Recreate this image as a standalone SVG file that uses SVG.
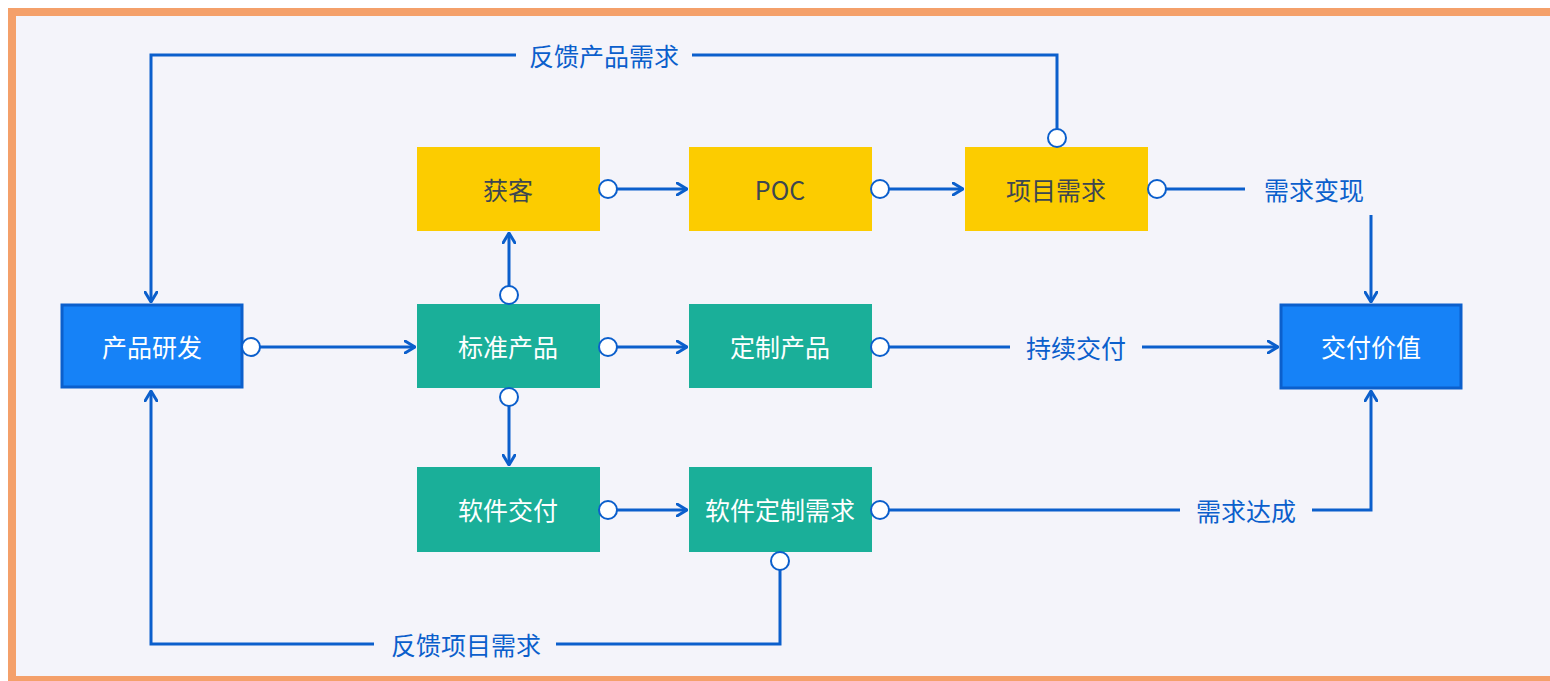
<svg xmlns="http://www.w3.org/2000/svg" width="1550" height="681" viewBox="0 0 1550 681">
<defs>
<marker id="arr" viewBox="0 0 12 14" refX="11" refY="7" markerWidth="12" markerHeight="14" markerUnits="userSpaceOnUse" orient="auto">
<path d="M1,1 L11,7 L1,13" fill="none" stroke="#0b5fcc" stroke-width="3" stroke-linecap="round" stroke-linejoin="round"/>
</marker>
<style>
.ln{fill:none;stroke:#0b5fcc;stroke-width:3}
.dot{fill:#ffffff;stroke:#0b5fcc;stroke-width:2}
.blue{fill:#1682f7;stroke:#0b5fcc;stroke-width:3}
.teal{fill:#1aaf99}
.yel{fill:#fccc00}
.t{font-family:"Noto Sans CJK SC","Noto Sans",sans-serif;font-size:25px;text-anchor:middle;dominant-baseline:central}
.w{fill:#ffffff}
.d{fill:#3d4650}
.lbl{fill:#0b5fcc}
</style>
</defs>
<rect x="0" y="0" width="1550" height="681" fill="#ffffff"/>
<rect x="12" y="12" width="1545" height="668" fill="#f4f4fa" stroke="#f4a06a" stroke-width="8"/>

<g id="connectors">
<path class="ln" d="M1057,138 V55 H692 M516,55 H151 V302" marker-end="url(#arr)"/>
<path class="ln" d="M251,347 H415" marker-end="url(#arr)"/>
<path class="ln" d="M608,189 H687" marker-end="url(#arr)"/>
<path class="ln" d="M880,189 H963" marker-end="url(#arr)"/>
<path class="ln" d="M1157,189 H1245"/>
<path class="ln" d="M1371,215 V302" marker-end="url(#arr)"/>
<path class="ln" d="M509,295 V233" marker-end="url(#arr)"/>
<path class="ln" d="M608,347 H687" marker-end="url(#arr)"/>
<path class="ln" d="M880,347 H1010"/>
<path class="ln" d="M1142,347 H1278" marker-end="url(#arr)"/>
<path class="ln" d="M509,397 V465" marker-end="url(#arr)"/>
<path class="ln" d="M608,510 H687" marker-end="url(#arr)"/>
<path class="ln" d="M880,510 H1180"/>
<path class="ln" d="M1312,510 H1371 V391" marker-end="url(#arr)"/>
<path class="ln" d="M780,561 V644 H556"/>
<path class="ln" d="M374,644 H151 V391" marker-end="url(#arr)"/>
<text class="t lbl" x="604" y="55">反馈产品需求</text>
<text class="t lbl" x="466" y="644">反馈项目需求</text>
<text class="t lbl" x="1314" y="189">需求变现</text>
<text class="t lbl" x="1076" y="347">持续交付</text>
<text class="t lbl" x="1246" y="510">需求达成</text>
</g>

<g id="n-rd"><rect class="blue" x="62" y="305" width="180" height="82"/><text class="t w" x="152" y="346">产品研发</text></g>
<g id="n-std"><rect class="teal" x="417" y="304" width="183" height="84"/><text class="t w" x="508" y="346">标准产品</text></g>
<g id="n-acq"><rect class="yel" x="417" y="147" width="183" height="84"/><text class="t d" x="508" y="189">获客</text></g>
<g id="n-poc"><rect class="yel" x="689" y="147" width="183" height="84"/><text class="t d" x="780" y="189">POC</text></g>
<g id="n-req"><rect class="yel" x="965" y="147" width="183" height="84"/><text class="t d" x="1056" y="189">项目需求</text></g>
<g id="n-custom"><rect class="teal" x="689" y="304" width="183" height="84"/><text class="t w" x="780" y="346">定制产品</text></g>
<g id="n-value"><rect class="blue" x="1281" y="305" width="180" height="83"/><text class="t w" x="1371" y="346">交付价值</text></g>
<g id="n-sw"><rect class="teal" x="417" y="467" width="183" height="85"/><text class="t w" x="508" y="509">软件交付</text></g>
<g id="n-swreq"><rect class="teal" x="689" y="467" width="183" height="85"/><text class="t w" x="780" y="509">软件定制需求</text></g>

<g id="ports">
<circle class="dot" cx="1057" cy="138" r="9"/>
<circle class="dot" cx="251" cy="347" r="9"/>
<circle class="dot" cx="608" cy="189" r="9"/>
<circle class="dot" cx="880" cy="189" r="9"/>
<circle class="dot" cx="1157" cy="189" r="9"/>
<circle class="dot" cx="509" cy="295" r="9"/>
<circle class="dot" cx="608" cy="347" r="9"/>
<circle class="dot" cx="880" cy="347" r="9"/>
<circle class="dot" cx="509" cy="397" r="9"/>
<circle class="dot" cx="608" cy="510" r="9"/>
<circle class="dot" cx="880" cy="510" r="9"/>
<circle class="dot" cx="780" cy="561" r="9"/>
</g>
</svg>
